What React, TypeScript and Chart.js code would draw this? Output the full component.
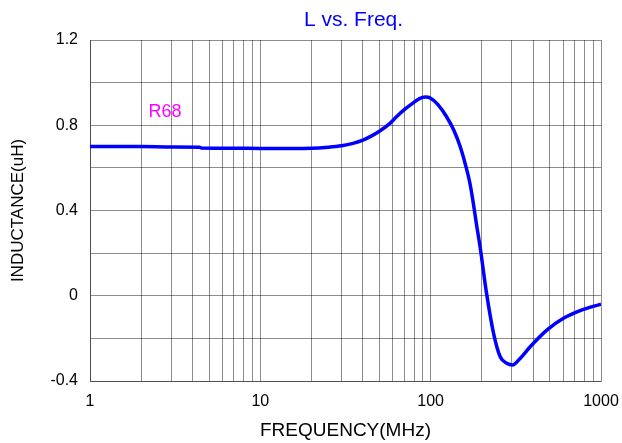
import React, { useEffect, useRef } from "react";
import { Chart, registerables } from "chart.js";

Chart.register(...registerables);

// Frequency (MHz) and inductance (uH)
const frequencies = [
  1, 2, 3, 4.4, 4.5, 7, 10, 15, 20, 25, 30, 35, 40, 45, 50, 57, 63, 70, 79, 86,
  93, 100, 110, 124, 137, 149, 160, 170, 178, 186, 195, 213, 234, 256, 280, 302,
  335, 384, 481, 602, 754, 1000,
];
const inductance = [
  0.7, 0.7, 0.698, 0.697, 0.693, 0.692, 0.691, 0.691, 0.692, 0.697, 0.704,
  0.715, 0.73, 0.75, 0.772, 0.805, 0.84, 0.873, 0.905, 0.925, 0.932, 0.927,
  0.898, 0.84, 0.775, 0.7, 0.615, 0.528, 0.434, 0.332, 0.23, 0.01, -0.176,
  -0.286, -0.317, -0.325, -0.294, -0.239, -0.161, -0.106, -0.07, -0.039,
];

// Axis ticks / grid
const xGridValues = [
  1, 2, 3, 4, 5, 6, 7, 8, 9, 10, 20, 30, 40, 50, 60, 70, 80, 90, 100, 200, 300,
  400, 500, 600, 700, 800, 900, 1000,
];
const xTickLabels = ["1", "10", "100", "1000"];
const yTickLabels = ["-0.4", "0", "0.4", "0.8", "1.2"];

const chartTitle = "L vs. Freq.";
const seriesLabel = "R68";
const seriesLabelAt = { x: 2.76, y: 0.862 };
const xTitle = "FREQUENCY(MHz)";
const yTitle = "INDUCTANCE(uH)";

const FONT = "'Liberation Sans', Arial, sans-serif";
const GRID = "rgba(0,0,0,0.45)";

export default function App() {
  const ref = useRef<HTMLCanvasElement | null>(null);

  useEffect(() => {
    if (!ref.current) return;
    const textPlugin = {
      id: "texts",
      afterDraw(chart: any) {
        const { ctx, chartArea } = chart;
        ctx.save();
        ctx.fillStyle = "#0000ff";
        ctx.font = `21px ${FONT}`;
        ctx.textAlign = "center";
        ctx.textBaseline = "middle";
        ctx.fillText(chartTitle, (chartArea.left + chartArea.right) / 2 + 8, 20);
        const xs = chart.scales.x;
        const ys = chart.scales.y;
        ctx.fillStyle = "#ff00ff";
        ctx.font = `18px ${FONT}`;
        ctx.fillText(
          seriesLabel,
          xs.getPixelForValue(seriesLabelAt.x),
          ys.getPixelForValue(seriesLabelAt.y)
        );
        ctx.restore();
      },
    };

    const chart = new Chart(ref.current, {
      type: "line",
      data: {
        datasets: [
          {
            data: frequencies.map((f, i) => ({ x: f, y: inductance[i] })),
            borderColor: "#0000ff",
            borderWidth: 3.5,
            pointRadius: 0,
            cubicInterpolationMode: "monotone",
            fill: false,
          },
        ],
      },
      options: {
        responsive: false,
        animation: false,
        layout: { padding: { top: 40, right: 21, left: 0, bottom: 0 } },
        plugins: {
          legend: { display: false },
          tooltip: { enabled: false },
          title: { display: false },
        },
        scales: {
          x: {
            type: "logarithmic",
            min: 1,
            max: 1000,
            afterBuildTicks: (s: any) => {
              s.ticks = xGridValues.map((v) => ({ value: v }));
            },
            afterFit: (s: any) => {
              s.height = 62;
              s.paddingLeft = 0;
              s.paddingRight = 0;
            },
            grid: { color: GRID, lineWidth: 1, drawTicks: false },
            border: { color: GRID, width: 1 },
            ticks: {
              autoSkip: false,
              maxRotation: 0,
              padding: 11,
              color: "#000",
              font: { family: FONT, size: 16 },
              callback: (v: any) => {
                const s = String(v);
                return xTickLabels.includes(s) ? s : "";
              },
            },
            title: {
              display: true,
              text: xTitle,
              color: "#000",
              font: { family: FONT, size: 19 },
              padding: { top: 0, bottom: 1 },
            },
          },
          y: {
            min: -0.4,
            max: 1.2,
            afterFit: (s: any) => {
              s.width = 90;
              s.paddingTop = 0;
              s.paddingBottom = 0;
            },
            grid: { color: GRID, lineWidth: 1, drawTicks: false },
            border: { color: GRID, width: 1 },
            ticks: {
              stepSize: 0.2,
              padding: 12,
              color: "#000",
              font: { family: FONT, size: 16 },
              callback: (v: any) => {
                const s = String(Math.round(Number(v) * 10) / 10);
                return yTickLabels.includes(s) ? s : "";
              },
            },
            title: {
              display: true,
              text: yTitle,
              color: "#000",
              font: { family: FONT, size: 17 },
              padding: { top: 8, bottom: 0 },
            },
          },
        },
      },
      plugins: [textPlugin],
    } as any);
    return () => chart.destroy();
  }, []);

  return (
    <div
      style={{
        position: "fixed",
        left: 0,
        top: 0,
        width: 622,
        height: 443,
        background: "#fff",
      }}
    >
      <canvas ref={ref} width={622} height={443} />
    </div>
  );
}
